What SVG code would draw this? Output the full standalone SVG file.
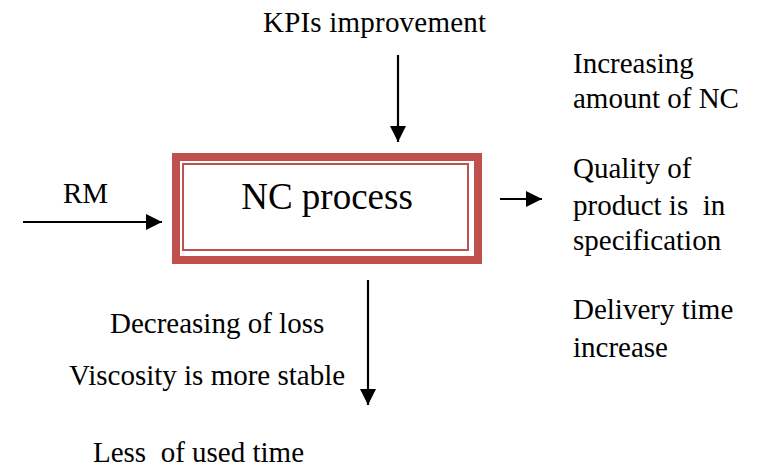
<svg xmlns="http://www.w3.org/2000/svg" width="765" height="472" viewBox="0 0 765 472">
  <defs>
    <marker id="ah" viewBox="0 0 16 16" refX="16" refY="8" markerWidth="16" markerHeight="16" markerUnits="userSpaceOnUse" orient="auto">
      <path d="M0,0 L16,8 L0,16 z" fill="#000"/>
    </marker>
  </defs>
  <style>
    text { font-family: "Liberation Serif", "Times New Roman", Times, serif; fill: #000; }
    .lbl { font-size: 29px; }
    .title { font-size: 37px; }
    .conn { stroke: #000; stroke-width: 2.2; fill: none; marker-end: url(#ah); }
  </style>
  <rect width="765" height="472" fill="#fff"/>
  <g id="connectors">
    <line class="conn" x1="398" y1="55" x2="398" y2="142"/>
    <line class="conn" x1="23" y1="222" x2="162" y2="222"/>
    <line class="conn" x1="500" y1="199" x2="542" y2="199"/>
    <line class="conn" x1="368" y1="280" x2="368" y2="405"/>
  </g>
  <g id="nc-process">
    <rect x="176" y="157" width="302" height="103" fill="#fff" stroke="#C0504D" stroke-width="8"/>
    <rect x="183" y="164" width="285" height="86" fill="none" stroke="#C0504D" stroke-width="2"/>
    <text class="title" x="327" y="209" text-anchor="middle">NC process</text>
  </g>
  <g id="kpis">
    <text class="lbl" x="263" y="32" textLength="223">KPIs improvement</text>
  </g>
  <g id="rm">
    <text class="lbl" x="63" y="203">RM</text>
  </g>
  <g id="outputs">
    <text class="lbl" x="573" y="73">Increasing</text>
    <text class="lbl" x="573" y="108">amount of NC</text>
    <text class="lbl" x="573" y="178">Quality of</text>
    <text class="lbl" x="573" y="215" xml:space="preserve">product is  in</text>
    <text class="lbl" x="573" y="250">specification</text>
    <text class="lbl" x="573" y="319">Delivery time</text>
    <text class="lbl" x="573" y="357">increase</text>
  </g>
  <g id="results">
    <text class="lbl" x="110" y="333">Decreasing of loss</text>
    <text class="lbl" x="69" y="385">Viscosity is more stable</text>
    <text class="lbl" x="93" y="462" xml:space="preserve">Less  of used time</text>
  </g>
</svg>
